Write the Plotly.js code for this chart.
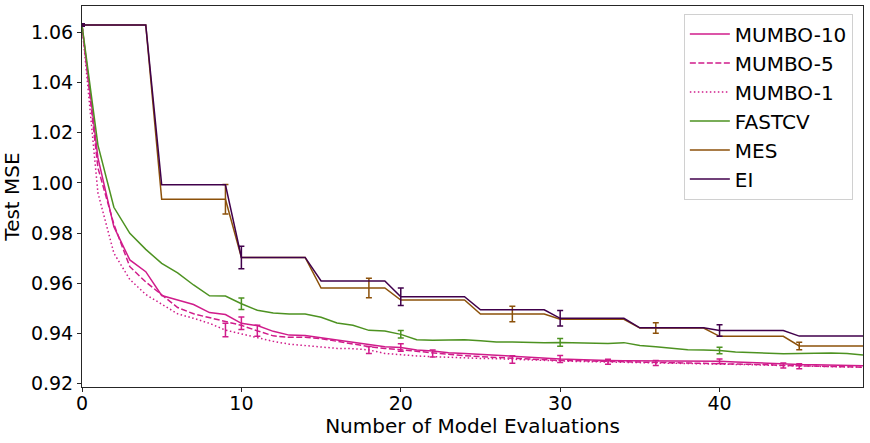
<!DOCTYPE html>
<html>
<head>
<meta charset="utf-8">
<script src="https://cdn.plot.ly/plotly-3.0.1.min.js"></script>
<style>html,body{margin:0;padding:0;background:#fff;}#chart{width:870px;height:443px;}</style>
</head>
<body>
<div id="chart"></div>
<script>
const evals = [0,1,2,3,4,5,6,7,8,9,10,11,12,13,14,15,16,17,18,19,20,21,22,23,24,25,26,27,28,29,30,31,32,33,34,35,36,37,38,39,40,41,42,43,44,45,46,47,48,49];

const mumbo10 = [1.063,1.010,0.9825,0.9693,0.9646,0.9551,0.9533,0.9515,0.9483,0.9475,0.9440,0.9431,0.9408,0.9393,0.9391,0.9382,0.9371,0.9363,0.9356,0.9347,0.9344,0.9334,0.9330,0.9323,0.9320,0.9316,0.9312,0.9307,0.9303,0.9300,0.9298,0.9296,0.9293,0.9292,0.9291,0.9291,0.9290,0.9290,0.9290,0.9290,0.9289,0.9286,0.9283,0.9280,0.9278,0.9276,0.9275,0.9274,0.9272,0.9271];
const mumbo5 = [1.063,1.006,0.9835,0.9666,0.9605,0.9555,0.9503,0.9478,0.9462,0.9449,0.9432,0.9410,0.9390,0.9384,0.9384,0.9379,0.9368,0.9356,0.9347,0.9340,0.9334,0.9327,0.9320,0.9316,0.9311,0.9307,0.9304,0.9300,0.9296,0.9294,0.9292,0.9291,0.9289,0.9287,0.9286,0.9285,0.9284,0.9283,0.9282,0.9281,0.9280,0.9279,0.9277,0.9275,0.9272,0.9270,0.9269,0.9268,0.9267,0.9265];
const mumbo1 = [1.063,0.996,0.972,0.9615,0.9555,0.9518,0.9478,0.9460,0.9440,0.9413,0.9398,0.9383,0.9368,0.9357,0.9351,0.9347,0.9340,0.9339,0.9334,0.9320,0.9314,0.9310,0.9307,0.9304,0.9302,0.9300,0.9299,0.9296,0.9294,0.9291,0.9290,0.9288,0.9287,0.9285,0.9284,0.9283,0.9282,0.9281,0.9280,0.9279,0.9278,0.9277,0.9275,0.9273,0.9271,0.9269,0.9268,0.9267,0.9266,0.9265];
const fastcv = [1.063,1.0151,0.9903,0.9799,0.9735,0.9679,0.9641,0.9593,0.9550,0.9549,0.9518,0.9492,0.9481,0.9477,0.9477,0.9464,0.9441,0.9432,0.9412,0.9409,0.9396,0.9375,0.9373,0.9375,0.9375,0.9371,0.9366,0.9366,0.9364,0.9363,0.9364,0.9363,0.9363,0.9360,0.9363,0.9352,0.9347,0.9342,0.9335,0.9334,0.9332,0.9326,0.9323,0.9322,0.9319,0.9320,0.9322,0.9322,0.9320,0.9314];
const mes = [1.063,1.063,1.063,1.063,1.063,0.9935,0.9935,0.9935,0.9935,0.9935,0.9703,0.9703,0.9703,0.9703,0.9703,0.9581,0.9581,0.9581,0.9581,0.9581,0.9533,0.9533,0.9533,0.9533,0.9533,0.9477,0.9477,0.9477,0.9477,0.9477,0.9456,0.9456,0.9456,0.9456,0.9456,0.9421,0.9421,0.9421,0.9421,0.9421,0.9388,0.9388,0.9388,0.9388,0.9388,0.9350,0.9350,0.9350,0.9350,0.9350];
const ei = [1.063,1.063,1.063,1.063,1.063,0.9993,0.9993,0.9993,0.9993,0.9993,0.9703,0.9703,0.9703,0.9703,0.9703,0.9609,0.9609,0.9609,0.9609,0.9609,0.9546,0.9546,0.9546,0.9546,0.9546,0.9494,0.9494,0.9494,0.9494,0.9494,0.9460,0.9460,0.9460,0.9460,0.9460,0.9422,0.9422,0.9422,0.9422,0.9422,0.9411,0.9411,0.9411,0.9411,0.9411,0.9389,0.9389,0.9389,0.9389,0.9389];

// error bars (shown every n-th evaluation)
const mumbo10ErrAt = [0,10,20,30,40];
const mumbo10Err = [0.0005,0.0025,0.0015,0.0014,0.0009];
const mumbo5ErrAt = [0,11,22,33,44];
const mumbo5Err = [0.0005,0.0022,0.0014,0.0010,0.0010];
const mumbo1ErrAt = [0,9,18,27,36,45];
const mumbo1Err = [0.0005,0.0027,0.0014,0.0015,0.0010,0.0010];
const fastcvErrAt = [0,10,20,30,40];
const fastcvErr = [0.0005,0.0023,0.0015,0.0015,0.0013];
const mesErrAt = [0,9,18,27,36,45];
const mesErr = [0.0005,0.0059,0.0039,0.0031,0.0021,0.0015];
const eiErrAt = [0,10,20,30,40];
const eiErr = [0.0005,0.0045,0.0035,0.0031,0.0023];

const seriesNames = ['MUMBO-10','MUMBO-5','MUMBO-1','FASTCV','MES','EI'];
const seriesColors = ['#d01c8b','#d01c8b','#d01c8b','#4d9221','#8c510a','#40004b'];
const seriesDash = ['solid','6px,2.5px','1.5px,2.5px','solid','solid','solid'];
const seriesVals = [mumbo10,mumbo5,mumbo1,fastcv,mes,ei];
const seriesErrAt = [mumbo10ErrAt,mumbo5ErrAt,mumbo1ErrAt,fastcvErrAt,mesErrAt,eiErrAt];
const seriesErr = [mumbo10Err,mumbo5Err,mumbo1Err,fastcvErr,mesErr,eiErr];

const traces = [];
seriesNames.forEach((name,i)=>{
  traces.push({
    x: evals, y: seriesVals[i], name: name, mode: 'lines', type: 'scatter',
    line: {color: seriesColors[i], width: 1.5, dash: seriesDash[i]},
    hoverinfo: 'skip', legendgroup: name
  });
  traces.push({
    x: seriesErrAt[i], y: seriesErrAt[i].map(k=>seriesVals[i][k]),
    mode: 'markers', type: 'scatter', marker: {size: 1, opacity: 0, color: seriesColors[i]},
    error_y: {type: 'data', array: seriesErr[i], visible: true, color: seriesColors[i], thickness: 1.5, width: 3},
    showlegend: false, hoverinfo: 'skip', legendgroup: name
  });
});

const tickFont = {family: 'DejaVu Sans, sans-serif', size: 19, color: '#000'};
const bigFont = {family: 'DejaVu Sans, sans-serif', size: 20, color: '#000'};
const layout = {
  width: 870, height: 443,
  margin: {l: 82, r: 7, t: 6, b: 56},
  paper_bgcolor: '#fff', plot_bgcolor: '#fff',
  font: bigFont,
  showlegend: true,
  xaxis: {
    range: [0, 49], tickvals: [0,10,20,30,40], ticks: 'outside', ticklen: 4, tickwidth: 1, tickcolor: '#262626',
    ticklabelstandoff: -5,
    showline: true, mirror: true, linecolor: '#262626', linewidth: 1, showgrid: false, zeroline: false,
    tickfont: tickFont, title: {text: 'Number of Model Evaluations', font: bigFont, standoff: 0}
  },
  yaxis: {
    range: [0.9186, 1.0706], tickvals: [0.92,0.94,0.96,0.98,1.00,1.02,1.04,1.06], tickformat: '.2f',
    ticks: 'outside', ticklen: 4, tickwidth: 1, tickcolor: '#262626',
    showline: true, mirror: true, linecolor: '#262626', linewidth: 1, showgrid: false, zeroline: false,
    tickfont: tickFont, title: {text: 'Test MSE', font: bigFont, standoff: 10}
  },
  legend: {
    x: 0.987, xanchor: 'right', y: 0.98, yanchor: 'top',
    bgcolor: 'rgba(255,255,255,0.85)', bordercolor: '#d0d0d0', borderwidth: 1,
    font: bigFont, itemwidth: 40, tracegroupgap: 0
  }
};

Plotly.newPlot('chart', traces, layout, {displayModeBar: false, staticPlot: true});
</script>
</body>
</html>
